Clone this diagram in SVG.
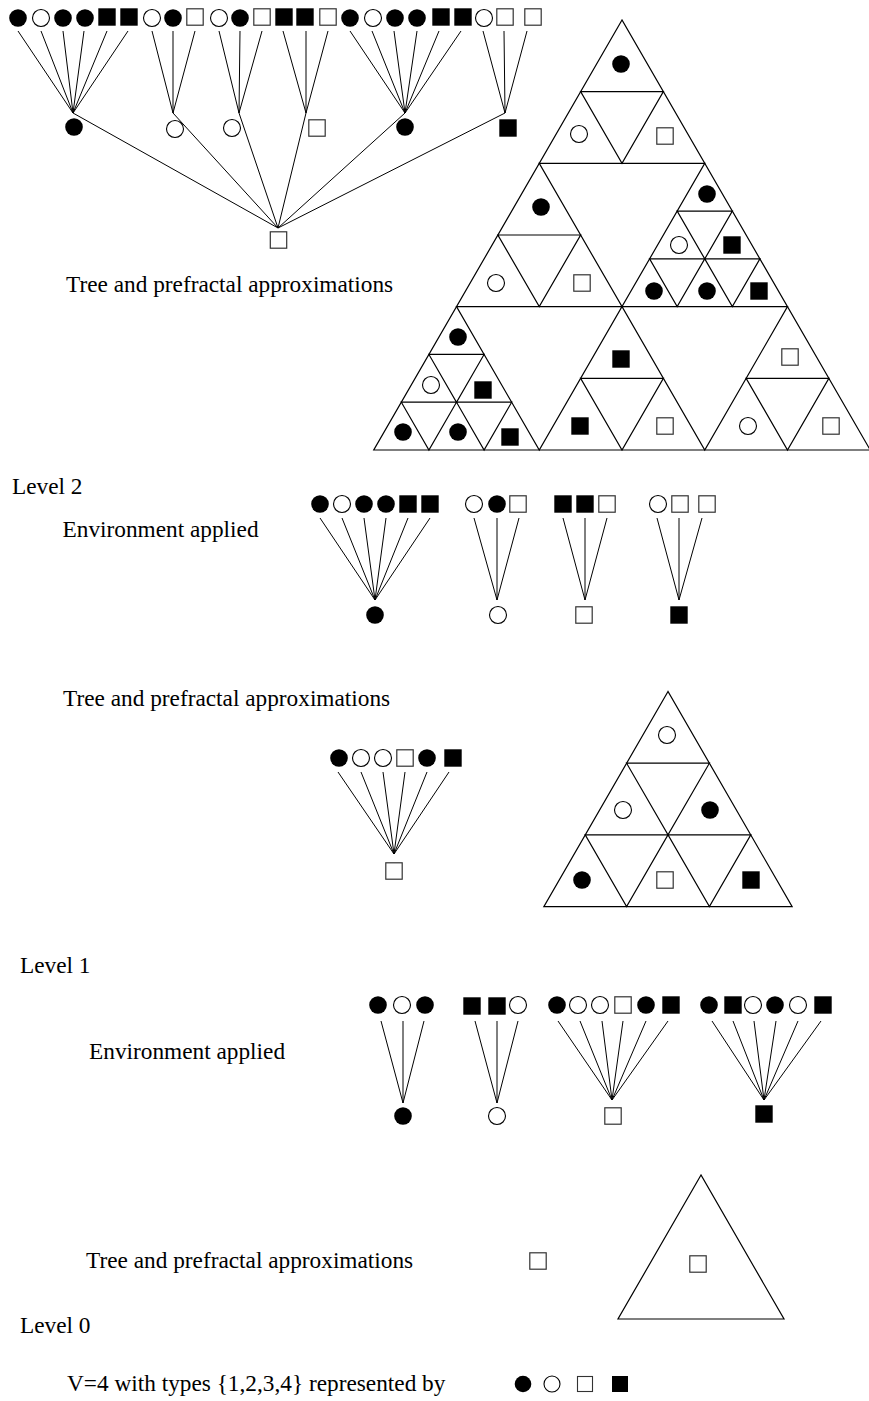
<svg xmlns="http://www.w3.org/2000/svg" xmlns:xlink="http://www.w3.org/1999/xlink" width="869" height="1401" viewBox="0 0 869 1401">
<style>
.t{font-family:"Liberation Serif","Times New Roman",serif;font-size:23.3px;fill:#000}
.ln{stroke:#000;stroke-width:1;fill:none}
.tri{stroke:#000;stroke-width:1.2;fill:none;stroke-linejoin:miter}
</style>
<defs>
<circle id="fc" r="8.8" fill="#000"/>
<circle id="oc" r="8.5" fill="none" stroke="#000" stroke-width="1.1"/>
<rect id="fs" x="-8.7" y="-8.7" width="17.4" height="17.4" fill="#000"/>
<rect id="os" x="-8.2" y="-8.2" width="16.4" height="16.4" fill="none" stroke="#333" stroke-width="1.2"/>
</defs>
<rect width="869" height="1401" fill="#fff"/>

<!-- ===== Level 2 tree ===== -->
<g id="connectors-level2-tree" class="ln">
<path d="M18,31L73,113M41,31L73,113M63,31L73,113M84,31L73,113M107,31L73,113M128,31L73,113"/>
<path d="M152,31L173,113M173,31L173,113M195,31L173,113"/>
<path d="M219,31L239,113M240,31L239,113M262,31L239,113"/>
<path d="M283,31L306,113M306,31L306,113M328,31L306,113"/>
<path d="M350,31L405,113M372,31L405,113M394,31L405,113M417,31L405,113M439,31L405,113M461,31L405,113"/>
<path d="M483,31L505,113M504,31L505,113M527,31L505,113"/>
<path d="M73,113L278,228M173,113L278,228M239,113L278,228M306,113L278,228M405,113L278,228M505,113L278,228"/>
</g>
<g id="l2-leaves">
<g id="l2-leaf-1"><use href="#fc" x="18" y="18"/></g>
<g id="l2-leaf-2"><use href="#oc" x="41" y="18"/></g>
<g id="l2-leaf-3"><use href="#fc" x="63" y="18"/></g>
<g id="l2-leaf-4"><use href="#fc" x="85" y="18"/></g>
<g id="l2-leaf-5"><use href="#fs" x="107" y="17"/></g>
<g id="l2-leaf-6"><use href="#fs" x="129" y="17"/></g>
<g id="l2-leaf-7"><use href="#oc" x="152" y="18"/></g>
<g id="l2-leaf-8"><use href="#fc" x="173" y="18"/></g>
<g id="l2-leaf-9"><use href="#os" x="195" y="17"/></g>
<g id="l2-leaf-10"><use href="#oc" x="219" y="18"/></g>
<g id="l2-leaf-11"><use href="#fc" x="240" y="18"/></g>
<g id="l2-leaf-12"><use href="#os" x="262" y="17"/></g>
<g id="l2-leaf-13"><use href="#fs" x="284" y="17"/></g>
<g id="l2-leaf-14"><use href="#fs" x="305" y="17"/></g>
<g id="l2-leaf-15"><use href="#os" x="328" y="17"/></g>
<g id="l2-leaf-16"><use href="#fc" x="350" y="18"/></g>
<g id="l2-leaf-17"><use href="#oc" x="373" y="18"/></g>
<g id="l2-leaf-18"><use href="#fc" x="395" y="18"/></g>
<g id="l2-leaf-19"><use href="#fc" x="417" y="18"/></g>
<g id="l2-leaf-20"><use href="#fs" x="441" y="17"/></g>
<g id="l2-leaf-21"><use href="#fs" x="463" y="17"/></g>
<g id="l2-leaf-22"><use href="#oc" x="484" y="18"/></g>
<g id="l2-leaf-23"><use href="#os" x="505" y="17"/></g>
<g id="l2-leaf-24"><use href="#os" x="533" y="17"/></g>
</g>
<g id="l2-mid">
<g id="l2-mid-1"><use href="#fc" x="74" y="127"/></g>
<g id="l2-mid-2"><use href="#oc" x="175" y="129"/></g>
<g id="l2-mid-3"><use href="#oc" x="232" y="128"/></g>
<g id="l2-mid-4"><use href="#os" x="317" y="128"/></g>
<g id="l2-mid-5"><use href="#fc" x="405" y="127"/></g>
<g id="l2-mid-6"><use href="#fs" x="508" y="128"/></g>
</g>
<g id="l2-root"><use href="#os" x="278.5" y="240"/></g>

<!-- ===== Level 2 prefractal ===== -->
<g id="l2-prefractal">
<g id="l2-tri-lines" class="tri">
<polygon points="622,20 373.75,450 870.25,450"/>
<polygon points="539.25,163.33 704.75,163.33 622,306.67"/>
<polygon points="456.5,306.67 622,306.67 539.25,450"/>
<polygon points="622,306.67 787.5,306.67 704.75,450"/>
<polygon points="580.63,91.67 663.38,91.67 622,163.33"/>
<polygon points="497.88,235 580.63,235 539.25,306.67"/>
<polygon points="580.63,378.33 663.38,378.33 622,450"/>
<polygon points="746.13,378.33 828.88,378.33 787.5,450"/>
<polygon points="677.17,211.11 732.33,211.11 704.75,258.89"/>
<polygon points="649.58,258.89 704.75,258.89 677.17,306.67"/>
<polygon points="704.75,258.89 759.92,258.89 732.33,306.67"/>
<polygon points="428.92,354.44 484.08,354.44 456.5,402.22"/>
<polygon points="401.33,402.22 456.5,402.22 428.92,450"/>
<polygon points="456.5,402.22 511.67,402.22 484.08,450"/>
</g>
<g id="p2-a1"><use href="#fc" x="621" y="64"/></g>
<g id="p2-a2"><use href="#oc" x="579" y="134"/></g>
<g id="p2-a3"><use href="#os" x="665" y="136"/></g>
<g id="p2-b1"><use href="#fc" x="541" y="207"/></g>
<g id="p2-b2"><use href="#oc" x="496" y="283"/></g>
<g id="p2-b3"><use href="#os" x="582" y="283"/></g>
<g id="p2-c1"><use href="#fc" x="707" y="194"/></g>
<g id="p2-c2"><use href="#oc" x="679" y="245"/></g>
<g id="p2-c3"><use href="#fs" x="732" y="245"/></g>
<g id="p2-c4"><use href="#fc" x="654" y="291"/></g>
<g id="p2-c5"><use href="#fc" x="707" y="291"/></g>
<g id="p2-c6"><use href="#fs" x="759" y="291"/></g>
<g id="p2-d1"><use href="#fc" x="458" y="337"/></g>
<g id="p2-d2"><use href="#oc" x="431" y="385"/></g>
<g id="p2-d3"><use href="#fs" x="483" y="390"/></g>
<g id="p2-d4"><use href="#fc" x="403" y="432"/></g>
<g id="p2-d5"><use href="#fc" x="458" y="432"/></g>
<g id="p2-d6"><use href="#fs" x="510" y="437"/></g>
<g id="p2-e1"><use href="#fs" x="621" y="359"/></g>
<g id="p2-e2"><use href="#fs" x="580" y="426"/></g>
<g id="p2-e3"><use href="#os" x="665" y="426"/></g>
<g id="p2-f1"><use href="#os" x="790" y="357"/></g>
<g id="p2-f2"><use href="#oc" x="748" y="426"/></g>
<g id="p2-f3"><use href="#os" x="831" y="426"/></g>
</g>

<text class="t" x="66" y="291.5">Tree and prefractal approximations</text>
<text class="t" x="12" y="494">Level 2</text>
<text class="t" x="62.5" y="536.7">Environment applied</text>

<!-- ===== Level 2 environment ===== -->
<g id="connectors-env2" class="ln">
<path d="M320,518L375,600M342,518L375,600M364,518L375,600M386,518L375,600M408,518L375,600M430,518L375,600"/>
<path d="M474,518L497,600M497,518L497,600M519,518L497,600"/>
<path d="M563,518L585,600M585,518L585,600M607,518L585,600"/>
<path d="M657,518L679,600M679,518L679,600M702,518L679,600"/>
</g>
<g id="env2-a">
<g id="e2a1"><use href="#fc" x="320" y="504"/></g>
<g id="e2a2"><use href="#oc" x="342" y="504"/></g>
<g id="e2a3"><use href="#fc" x="364" y="504"/></g>
<g id="e2a4"><use href="#fc" x="386" y="504"/></g>
<g id="e2a5"><use href="#fs" x="408" y="504"/></g>
<g id="e2a6"><use href="#fs" x="430" y="504"/></g>
<g id="e2a-root"><use href="#fc" x="375" y="615"/></g>
</g>
<g id="env2-b">
<g id="e2b1"><use href="#oc" x="474" y="504"/></g>
<g id="e2b2"><use href="#fc" x="497" y="504"/></g>
<g id="e2b3"><use href="#os" x="518" y="504"/></g>
<g id="e2b-root"><use href="#oc" x="498" y="615"/></g>
</g>
<g id="env2-c">
<g id="e2c1"><use href="#fs" x="563" y="504"/></g>
<g id="e2c2"><use href="#fs" x="585" y="504"/></g>
<g id="e2c3"><use href="#os" x="607" y="504"/></g>
<g id="e2c-root"><use href="#os" x="584" y="615"/></g>
</g>
<g id="env2-d">
<g id="e2d1"><use href="#oc" x="658" y="504"/></g>
<g id="e2d2"><use href="#os" x="680" y="504"/></g>
<g id="e2d3"><use href="#os" x="707" y="504"/></g>
<g id="e2d-root"><use href="#fs" x="679" y="615"/></g>
</g>

<!-- ===== Level 1 ===== -->
<text class="t" x="63" y="705.5">Tree and prefractal approximations</text>
<g id="connectors-level1-tree" class="ln">
<path d="M338,772L394,854M361,772L394,854M383,772L394,854M405,772L394,854M427,772L394,854M449,772L394,854"/>
</g>
<g id="l1-tree">
<g id="l1-1"><use href="#fc" x="339" y="758"/></g>
<g id="l1-2"><use href="#oc" x="361" y="758"/></g>
<g id="l1-3"><use href="#oc" x="383" y="758"/></g>
<g id="l1-4"><use href="#os" x="405" y="758"/></g>
<g id="l1-5"><use href="#fc" x="427" y="758"/></g>
<g id="l1-6"><use href="#fs" x="453" y="758"/></g>
<g id="l1-root"><use href="#os" x="394" y="871"/></g>
</g>
<g id="l1-prefractal">
<g class="tri">
<polygon points="668,691.5 543.85,906.6 792.15,906.6"/>
<polygon points="626.6,763.2 709.4,763.2 668,834.9"/>
<polygon points="585.2,834.9 668,834.9 626.6,906.6"/>
<polygon points="668,834.9 750.8,834.9 709.4,906.6"/>
</g>
<g id="p1-1"><use href="#oc" x="667" y="735"/></g>
<g id="p1-2"><use href="#oc" x="623" y="810"/></g>
<g id="p1-3"><use href="#fc" x="710" y="810"/></g>
<g id="p1-4"><use href="#fc" x="582" y="880"/></g>
<g id="p1-5"><use href="#os" x="665" y="880"/></g>
<g id="p1-6"><use href="#fs" x="751" y="880"/></g>
</g>

<text class="t" x="20" y="973">Level 1</text>
<text class="t" x="89" y="1059">Environment applied</text>

<!-- ===== Level 1 environment ===== -->
<g id="connectors-env1" class="ln">
<path d="M381,1021L403,1103M403,1021L403,1103M424,1021L403,1103"/>
<path d="M475,1021L497,1103M497,1021L497,1103M518,1021L497,1103"/>
<path d="M558,1021L612,1100M580,1021L612,1100M602,1021L612,1100M623,1021L612,1100M646,1021L612,1100M668,1021L612,1100"/>
<path d="M712,1021L764,1100M733,1021L764,1100M754,1021L764,1100M776,1021L764,1100M798,1021L764,1100M821,1021L764,1100"/>
</g>
<g id="env1-a">
<g id="e1a1"><use href="#fc" x="378" y="1005"/></g>
<g id="e1a2"><use href="#oc" x="402" y="1005"/></g>
<g id="e1a3"><use href="#fc" x="425" y="1005"/></g>
<g id="e1a-root"><use href="#fc" x="403" y="1116"/></g>
</g>
<g id="env1-b">
<g id="e1b1"><use href="#fs" x="472" y="1006"/></g>
<g id="e1b2"><use href="#fs" x="497" y="1006"/></g>
<g id="e1b3"><use href="#oc" x="518" y="1005"/></g>
<g id="e1b-root"><use href="#oc" x="497" y="1116"/></g>
</g>
<g id="env1-c">
<g id="e1c1"><use href="#fc" x="557" y="1005"/></g>
<g id="e1c2"><use href="#oc" x="578" y="1005"/></g>
<g id="e1c3"><use href="#oc" x="600" y="1005"/></g>
<g id="e1c4"><use href="#os" x="623" y="1005"/></g>
<g id="e1c5"><use href="#fc" x="646" y="1005"/></g>
<g id="e1c6"><use href="#fs" x="671" y="1005"/></g>
<g id="e1c-root"><use href="#os" x="613" y="1116"/></g>
</g>
<g id="env1-d">
<g id="e1d1"><use href="#fc" x="709" y="1005"/></g>
<g id="e1d2"><use href="#fs" x="733" y="1005"/></g>
<g id="e1d3"><use href="#oc" x="753" y="1005"/></g>
<g id="e1d4"><use href="#fc" x="775" y="1005"/></g>
<g id="e1d5"><use href="#oc" x="798" y="1005"/></g>
<g id="e1d6"><use href="#fs" x="823" y="1005"/></g>
<g id="e1d-root"><use href="#fs" x="764" y="1114"/></g>
</g>

<!-- ===== Level 0 ===== -->
<text class="t" x="86" y="1268">Tree and prefractal approximations</text>
<g id="l0-tree"><use href="#os" x="538" y="1261"/></g>
<g id="l0-prefractal">
<polygon class="tri" points="701,1175 618,1319 784,1319"/>
<use href="#os" x="698" y="1264"/>
</g>
<text class="t" x="20" y="1333">Level 0</text>

<!-- ===== Legend ===== -->
<text class="t" x="67" y="1391">V=4 with types {1,2,3,4} represented by</text>
<g id="legend">
<g id="lg-1"><circle cx="523" cy="1384" r="8.3" fill="#000"/></g>
<g id="lg-2"><circle cx="552" cy="1384" r="8" fill="none" stroke="#000" stroke-width="1.1"/></g>
<g id="lg-3"><rect x="577.5" y="1376.5" width="15" height="15" fill="none" stroke="#333" stroke-width="1.1"/></g>
<g id="lg-4"><rect x="612" y="1376" width="16" height="16" fill="#000"/></g>
</g>
</svg>
